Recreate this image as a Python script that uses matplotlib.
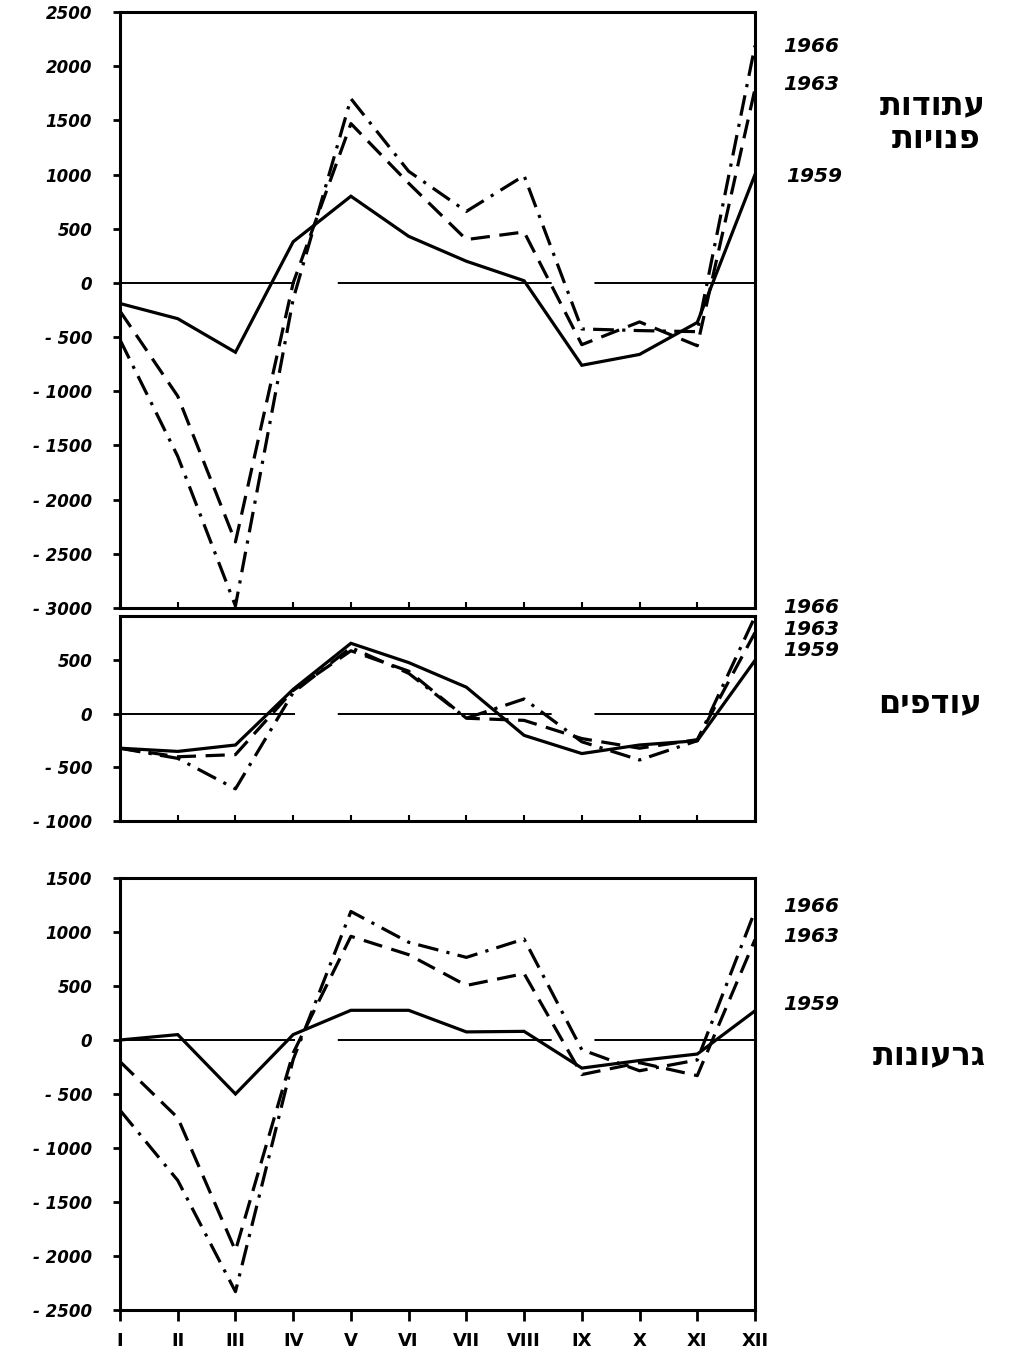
import numpy as np
import matplotlib
matplotlib.use("Agg")
import matplotlib.pyplot as plt

# ---------------- data ----------------
months = ['I', 'II', 'III', 'IV', 'V', 'VI', 'VII', 'VIII', 'IX', 'X', 'XI', 'XII']
years = ['1959', '1963', '1966']

# panel 1: free reserves (עתודות פנויות)
reserves_1959 = [-190, -330, -640, 380, 800, 430, 200, 20, -760, -660, -365, 1000]
reserves_1963 = [-260, -1045, -2390, 0, 1470, 920, 400, 470, -570, -360, -580, 1790]
reserves_1966 = [-525, -1600, -2980, -150, 1700, 1030, 660, 990, -425, -440, -450, 2190]

# panel 2: surpluses (עודפים)
surplus_1959 = [-320, -350, -290, 230, 660, 480, 250, -200, -370, -290, -250, 500]
surplus_1963 = [-320, -400, -380, 220, 590, 400, -40, -60, -230, -320, -240, 760]
surplus_1966 = [-320, -415, -700, 200, 620, 380, -40, 140, -260, -430, -250, 910]

# panel 3: deficits (גרעונות)
deficit_1959 = [0, 50, -500, 50, 275, 275, 75, 80, -260, -190, -130, 270]
deficit_1963 = [-200, -720, -1950, -120, 960, 790, 505, 615, -320, -210, -330, 930]
deficit_1966 = [-650, -1300, -2330, -180, 1190, 905, 765, 935, -90, -285, -185, 1195]

titles = ['עתודות\nפנויות', 'עודפים', 'גרעונות']

top_ticks = [2500, 2000, 1500, 1000, 500, 0, -500, -1000, -1500, -2000, -2500, -3000]
mid_ticks = [500, 0, -500, -1000]
bot_ticks = [1500, 1000, 500, 0, -500, -1000, -1500, -2000, -2500]

# ---------------- layout ----------------
W, H = 1016, 1355
fig = plt.figure(figsize=(W / 100, H / 100), dpi=100)
fig.patch.set_facecolor('white')

def px_rect(x0, y0, x1, y1):
    return [x0 / W, 1 - y1 / H, (x1 - x0) / W, (y1 - y0) / H]

ax_top = fig.add_axes(px_rect(120, 12, 755, 608))
ax_mid = fig.add_axes(px_rect(120, 616, 755, 821))
ax_bot = fig.add_axes(px_rect(120, 878, 755, 1310))

x = np.arange(len(months))
LW = 2.3
styles = {
    '1959': dict(linestyle='-', linewidth=LW),
    '1963': dict(linestyle=(0, (6, 3)), linewidth=LW),
    '1966': dict(linestyle=(0, (6.5, 2.6, 1, 2.6)), linewidth=LW),
}

def fmt(v):
    if v < 0:
        return '- ' + str(abs(v))
    return str(v)

panels = [
    (ax_top, [reserves_1959, reserves_1963, reserves_1966], (-3000, 2500), top_ticks),
    (ax_mid, [surplus_1959, surplus_1963, surplus_1966], (-1000, 915), mid_ticks),
    (ax_bot, [deficit_1959, deficit_1963, deficit_1966], (-2500, 1500), bot_ticks),
]

for ax, series, ylim, ticks in panels:
    ax.axhline(0, color='black', linewidth=1.4, linestyle=(20, (110, 22)), zorder=1)
    for yr, vals in zip(years, series):
        ax.plot(x, vals, color='black', solid_joinstyle='miter',
                dash_capstyle='butt', zorder=3, **styles[yr])
    ax.set_xlim(0, len(months) - 1)
    ax.set_ylim(*ylim)
    ax.set_yticks(ticks)
    ax.set_yticklabels([fmt(t) for t in ticks], fontsize=12,
                       fontweight='bold', style='italic')
    ax.tick_params(axis='y', direction='out', length=5, width=2, pad=15)
    for s in ax.spines.values():
        s.set_linewidth(2.2)
    ax.set_xticks(x)

for ax in (ax_top, ax_mid):
    ax.tick_params(axis='x', direction='in', length=4, width=1.5, labelbottom=False)

ax_bot.set_xticklabels(months, fontsize=13, fontweight='bold')
ax_bot.tick_params(axis='x', direction='out', length=8, width=2, pad=8)

# ---------------- right-side labels ----------------
def ftext(xp, yp, s, **kw):
    fig.text(xp / W, 1 - yp / H, s, va='center', **kw)

yr_kw = dict(fontsize=14.5, fontweight='bold', style='italic', ha='left')
ftext(783, 47, '1966', **yr_kw)
ftext(783, 85, '1963', **yr_kw)
ftext(786, 177, '1959', **yr_kw)

ftext(783, 608, '1966', **yr_kw)
ftext(783, 630, '1963', **yr_kw)
ftext(783, 651, '1959', **yr_kw)

ftext(783, 906, '1966', **yr_kw)
ftext(783, 937, '1963', **yr_kw)
ftext(783, 1004, '1959', **yr_kw)

heb_kw = dict(fontsize=23, fontweight='bold', ha='right', family='DejaVu Sans')
def rtl(s):
    # matplotlib lays text out left to right, so reverse for visual RTL order
    return s[::-1]

line1, line2 = titles[0].split('\n')
ftext(986, 106, rtl(line1), **heb_kw)
ftext(980, 139, rtl(line2), **heb_kw)
ftext(982, 704, rtl(titles[1]), **heb_kw)
ftext(986, 1056, rtl(titles[2]), **heb_kw)

fig.savefig('out.png', dpi=100, facecolor='white')
